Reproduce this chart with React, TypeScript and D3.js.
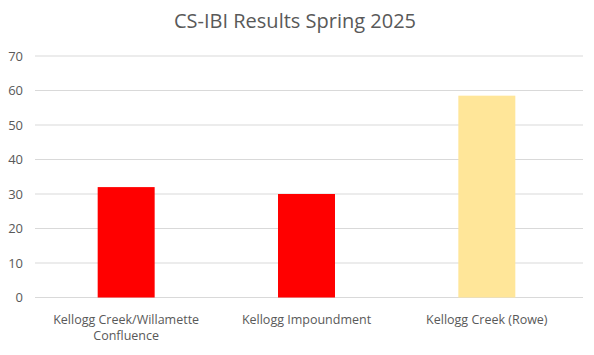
import React from "react";
import * as d3 from "d3";

const categories = ["Kellogg Creek/Willamette Confluence", "Kellogg Impoundment", "Kellogg Creek (Rowe)"];
const values = [32, 30, 58.5];
const colors = ["#FF0000", "#FF0000", "#FFE699"];
const yTicks = [0, 10, 20, 30, 40, 50, 60, 70];
const title = "CS-IBI Results Spring 2025";

const W = 594, H = 355;
const FONT = "'Open Sans', sans-serif";

function wrap(text: string, maxW: number, font: string): string[] {
  const c = document.createElement("canvas").getContext("2d")!;
  c.font = font;
  const words = text.split(" ");
  const lines: string[] = [];
  let cur = "";
  for (const w of words) {
    const t = cur ? cur + " " + w : w;
    if (c.measureText(t).width > maxW && cur) {
      lines.push(cur);
      cur = w;
    } else cur = t;
  }
  if (cur) lines.push(cur);
  return lines;
}

export default function App() {
  const x = d3.scaleBand<string>().domain(categories).range([36, 577]).paddingInner(0.684).paddingOuter(0.342);
  const y = d3.scaleLinear().domain([0, 70]).range([297.5, 56]);
  const labelSize = 12.5;
  const labelFont = `${labelSize}px ${FONT}`;
  return (
    <svg width={W} height={H} style={{ position: "absolute", left: 0, top: 0 }} fontFamily={FONT}>
      <rect width={W} height={H} fill="#fff" />
      <text x={295} y={28} textAnchor="middle" fontSize={20} fill="#595959">{title}</text>
      {yTicks.map((t) => (
        <g key={t}>
          <line x1={35} x2={583} y1={y(t)} y2={y(t)} stroke="#D9D9D9" strokeWidth={1} />
          <text x={23} y={y(t) + 4.5} textAnchor="end" fontSize={13} fill="#595959">{t}</text>
        </g>
      ))}
      {categories.map((c, i) => (
        <rect key={c} x={x(c)} width={x.bandwidth()} y={y(values[i])} height={y(0) - y(values[i])} fill={colors[i]} />
      ))}
      {categories.map((c) => {
        const cx = x(c)! + x.bandwidth() / 2;
        const lines = wrap(c, x.step() - 10, labelFont);
        return (
          <text key={c} textAnchor="middle" fontSize={labelSize} fill="#595959">
            {lines.map((l, j) => (
              <tspan key={j} x={cx} y={323.5 + j * 16.5}>{l}</tspan>
            ))}
          </text>
        );
      })}
    </svg>
  );
}
